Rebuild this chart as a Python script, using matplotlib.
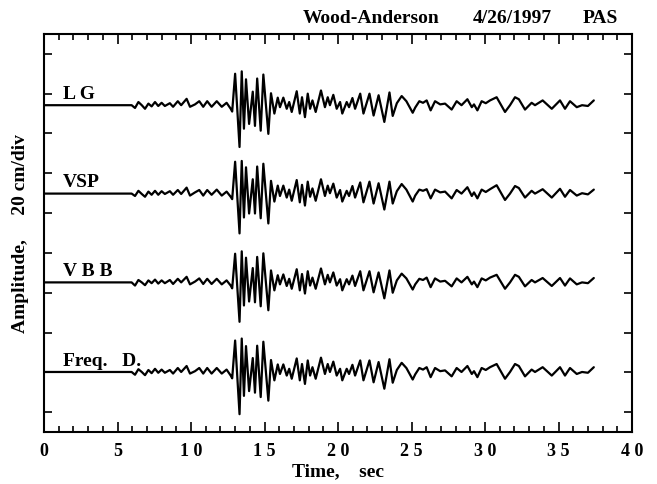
import matplotlib
matplotlib.use("Agg")
import matplotlib.pyplot as plt

t_pts = [0, 5.96, 6.19, 6.42, 6.65, 6.87, 7.1, 7.32, 7.55, 7.77, 8.0, 8.22, 8.56, 8.78,
         9.1, 9.33, 9.7, 9.93, 10.27, 10.56, 10.83, 11.1, 11.4, 11.75, 12.09, 12.42, 12.7,
         12.8, 13.0, 13.3, 13.45, 13.6, 13.74, 13.95, 14.2, 14.35, 14.5, 14.74, 14.92,
         15.26, 15.44, 15.67, 15.9, 16.05, 16.28, 16.51, 16.68, 16.85, 17.19, 17.4, 17.55,
         17.75, 17.94, 18.1, 18.26, 18.48, 18.84, 19.11, 19.3, 19.45, 19.68, 19.91, 20.14,
         20.29, 20.59, 20.75, 20.98, 21.16, 21.51, 21.73, 22.14, 22.42, 22.76, 23.15, 23.5,
         23.72, 24.0, 24.33, 24.65, 25.08, 25.25, 25.53, 25.78, 26.03, 26.3, 26.6, 26.95,
         27.28, 27.73, 28.07, 28.4, 28.8, 29.1, 29.25, 29.48, 29.77, 30.05, 30.34, 30.79,
         31.36, 31.7, 32.04, 32.3, 32.72, 33.17, 33.4, 33.92, 34.54, 35.1, 35.44, 35.78,
         36.24, 36.6, 37.0, 37.4]

# amplitudes in divisions (1 div = 20 cm)
lg = [0, 0, -0.07, 0.08, 0.0, -0.09, 0.04, -0.03, 0.08, -0.02, 0.06, -0.02, 0.05, -0.04,
      0.1, 0.0, 0.16, -0.04, 0.02, 0.1, -0.04, 0.1, -0.04, 0.1, -0.04, 0.06, -0.09,
      -0.16, 0.79, -1.05, 0.85, -0.59, 0.65, -0.47, 0.34, -0.52, 0.67, -0.64, 0.77,
      -0.72, 0.3, -0.21, 0.19, -0.05, 0.19, -0.09, 0.08, -0.17, 0.35, -0.21, 0.2,
      -0.3, 0.29, -0.09, 0.12, -0.17, 0.37, -0.05, 0.2, 0.0, 0.26, -0.09, 0.08,
      -0.21, 0.08, -0.05, 0.18, -0.09, 0.29, -0.21, 0.29, -0.26, 0.25, -0.42, 0.32,
      -0.27, 0.05, 0.23, 0.1, -0.19, -0.06, 0.1, 0.06, 0.12, -0.13, 0.1, 0.02,
      0.04, -0.11, 0.1, 0.0, 0.15, -0.05, 0.02, -0.13, 0.1, 0.05, 0.12, 0.2,
      -0.17, 0.0, 0.2, 0.15, -0.11, 0.06, 0.0, 0.12, -0.09, 0.12, -0.09, 0.1,
      -0.05, 0.0, -0.02, 0.12]
vsp = [0, 0, -0.06, 0.07, -0.01, -0.08, 0.05, -0.03, 0.07, -0.03, 0.06, -0.01, 0.06, -0.03,
       0.09, -0.01, 0.15, -0.05, 0.03, 0.09, -0.05, 0.09, -0.03, 0.1, -0.05, 0.05, -0.08,
       -0.14, 0.8, -1.0, 0.82, -0.6, 0.66, -0.5, 0.36, -0.5, 0.68, -0.62, 0.75,
       -0.75, 0.32, -0.2, 0.2, -0.06, 0.2, -0.1, 0.1, -0.18, 0.34, -0.22, 0.22,
       -0.3, 0.3, -0.08, 0.13, -0.18, 0.36, -0.06, 0.2, 0.01, 0.25, -0.1, 0.09,
       -0.2, 0.07, -0.06, 0.19, -0.1, 0.28, -0.22, 0.3, -0.25, 0.26, -0.4, 0.3,
       -0.25, 0.06, 0.24, 0.1, -0.2, -0.05, 0.1, 0.07, 0.11, -0.12, 0.1, 0.03,
       0.05, -0.12, 0.09, 0.0, 0.16, -0.06, 0.03, -0.12, 0.1, 0.04, 0.11, 0.21,
       -0.16, 0.0, 0.19, 0.14, -0.1, 0.07, 0.0, 0.11, -0.1, 0.12, -0.08, 0.09,
       -0.05, 0.01, -0.02, 0.1]
vbb = [0, 0, -0.08, 0.06, 0.0, -0.07, 0.05, -0.02, 0.07, -0.03, 0.05, -0.02, 0.06, -0.04,
       0.09, 0.0, 0.14, -0.05, 0.02, 0.1, -0.04, 0.09, -0.04, 0.09, -0.05, 0.05, -0.08,
       -0.15, 0.72, -0.99, 0.78, -0.58, 0.62, -0.48, 0.36, -0.5, 0.64, -0.6, 0.73,
       -0.7, 0.3, -0.2, 0.18, -0.05, 0.2, -0.09, 0.09, -0.16, 0.33, -0.2, 0.21,
       -0.28, 0.28, -0.08, 0.12, -0.16, 0.35, -0.05, 0.19, 0.0, 0.25, -0.08, 0.08,
       -0.2, 0.08, -0.05, 0.17, -0.09, 0.28, -0.2, 0.28, -0.25, 0.25, -0.4, 0.3,
       -0.26, 0.05, 0.22, 0.1, -0.18, -0.05, 0.09, 0.06, 0.12, -0.12, 0.1, 0.02,
       0.04, -0.1, 0.1, 0.0, 0.14, -0.05, 0.02, -0.12, 0.1, 0.05, 0.12, 0.19,
       -0.16, 0.0, 0.19, 0.14, -0.1, 0.06, 0.0, 0.11, -0.09, 0.11, -0.08, 0.1,
       -0.05, 0.0, -0.02, 0.11]
freq_d = [0, 0, -0.07, 0.07, 0.0, -0.08, 0.05, -0.03, 0.08, -0.02, 0.06, -0.02, 0.05, -0.04,
          0.1, 0.0, 0.15, -0.04, 0.02, 0.1, -0.04, 0.1, -0.04, 0.1, -0.04, 0.06, -0.09,
          -0.16, 0.79, -1.06, 0.84, -0.6, 0.65, -0.48, 0.35, -0.52, 0.66, -0.63, 0.76,
          -0.72, 0.3, -0.21, 0.19, -0.05, 0.19, -0.09, 0.08, -0.17, 0.34, -0.21, 0.2,
          -0.3, 0.29, -0.09, 0.12, -0.17, 0.36, -0.05, 0.2, 0.0, 0.26, -0.09, 0.08,
          -0.21, 0.08, -0.05, 0.18, -0.09, 0.29, -0.21, 0.29, -0.26, 0.25, -0.42, 0.32,
          -0.27, 0.05, 0.23, 0.1, -0.19, -0.06, 0.1, 0.06, 0.12, -0.13, 0.1, 0.02,
          0.04, -0.11, 0.1, 0.0, 0.15, -0.05, 0.02, -0.13, 0.1, 0.05, 0.12, 0.2,
          -0.17, 0.0, 0.2, 0.15, -0.11, 0.06, 0.0, 0.12, -0.09, 0.12, -0.09, 0.1,
          -0.05, 0.0, -0.02, 0.12]

traces = [lg, vsp, vbb, freq_d]
names = ["L G", "VSP", "V B B", "Freq.   D."]
baselines = [8.21, 5.99, 3.76, 1.51]
xticks = [0, 5, 10, 15, 20, 25, 30, 35, 40]
xtick_labels = ["0", "5", "1 0", "1 5", "2 0", "2 5", "3 0", "3 5", "4 0"]

plt.rcParams['font.family'] = ['Liberation Serif', 'DejaVu Serif']
plt.rcParams['font.weight'] = 'bold'

fig = plt.figure(figsize=(6.57, 4.85), dpi=100)
ax = fig.add_axes([0.067, 0.107, 0.895, 0.821])

for tr, base, name in zip(traces, baselines, names):
    ax.plot(t_pts, [base + a for a in tr], color='k', lw=1.6,
            solid_joinstyle='round', solid_capstyle='round')
    ax.text(1.3, base + 0.3, name, fontsize=14, fontweight='bold', va='center', ha='left')

ax.set_xlim(0, 40)
ax.set_ylim(0, 10)
ax.set_xticks(xticks)
ax.set_xticklabels(xtick_labels, fontsize=13, fontweight='bold')
ax.set_xticks(range(0, 41), minor=True)
ax.set_yticks([0.5 + i for i in range(10)])
ax.set_yticklabels([])
ax.tick_params(axis='both', which='both', direction='in', top=True, right=True, width=1.2)
ax.tick_params(axis='x', which='major', length=7, pad=7)
ax.tick_params(axis='x', which='minor', length=4)
ax.tick_params(axis='y', length=6)
for s in ax.spines.values():
    s.set_linewidth(1.5)

ax.set_xlabel('Time,    sec', fontsize=14, fontweight='bold')
ax.xaxis.set_label_coords(0.5, -0.075)
ax.set_ylabel('Amplitude,     20 cm/div', fontsize=14, fontweight='bold')
ax.yaxis.set_label_coords(-0.025, 0.5)

fig.text(0.46, 0.962, 'Wood-Anderson', fontsize=14, fontweight='bold', ha='left', va='center')
fig.text(0.72, 0.962, '4/26/1997', fontsize=14, fontweight='bold', ha='left', va='center')
fig.text(0.887, 0.962, 'PAS', fontsize=14, fontweight='bold', ha='left', va='center')

fig.savefig('out.png', dpi=100)
